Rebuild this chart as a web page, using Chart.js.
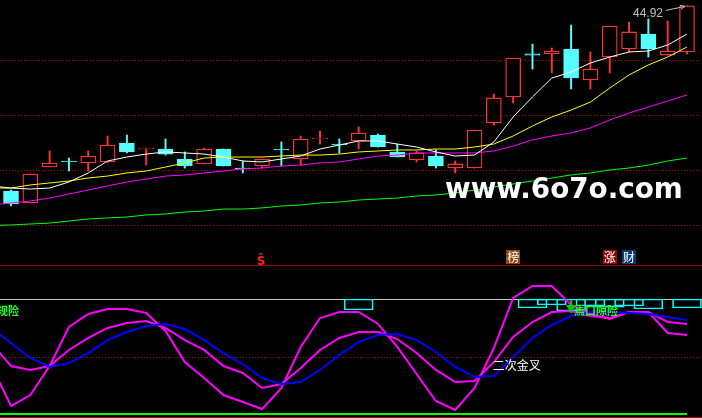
<!DOCTYPE html>
<html><head><meta charset="utf-8">
<script src="https://cdn.jsdelivr.net/npm/chart.js@4"></script>
<style>html,body{margin:0;padding:0;background:#000;overflow:hidden}canvas{display:block}</style>
</head><body>
<canvas id="c" width="702" height="418"></canvas>
<script>
// ---- candles (36 sessions) ----
const open  = [28.09,27.00,30.27,30.82,30.64,30.73,32.45,31.91,31.91,31.00,30.55,31.91,30.18,30.36,31.91,31.00,32.82,32.36,32.64,33.18,31.64,30.91,31.27,30.18,30.18,34.27,36.64,40.55,40.55,41.00,38.18,40.27,41.00,42.36,40.45,40.73];
const high  = [28.18,29.64,31.73,31.09,31.73,33.09,33.18,32.00,32.82,31.64,32.00,31.91,30.82,31.00,32.55,33.09,33.55,32.82,33.91,33.27,32.36,31.73,31.82,30.82,33.64,36.91,40.18,41.45,41.09,43.18,40.73,43.09,43.45,43.73,43.55,44.92];
const low   = [26.73,27.00,30.27,29.91,29.91,30.64,31.55,30.45,31.36,30.18,30.55,30.36,29.73,30.18,30.36,30.45,32.36,31.55,31.91,32.09,31.18,30.73,30.18,29.73,30.18,34.09,36.09,39.18,38.82,37.36,37.36,38.82,40.73,40.27,40.45,40.55];
const close = [26.91,29.64,30.64,30.73,31.27,32.27,31.64,32.00,31.45,30.36,31.91,30.36,30.09,31.00,31.82,32.82,32.91,32.27,33.36,32.09,31.18,31.55,30.36,30.55,33.64,36.55,40.18,40.45,40.82,38.36,39.18,43.09,42.55,41.00,40.82,44.92];
// ---- moving averages (first value = session before the first visible candle) ----
const ma5  = [28.55,28.36,28.27,28.36,28.91,29.73,30.82,31.18,31.45,31.64,31.55,31.45,31.18,30.82,30.73,31.00,31.27,31.91,32.27,32.64,32.64,32.36,32.09,31.64,31.27,31.36,32.55,34.82,36.64,38.36,38.91,39.73,40.27,40.73,40.82,41.36,42.36];
const ma10 = [28.36,28.36,28.64,28.82,29.00,29.27,29.45,29.73,29.91,30.27,30.64,31.09,31.18,31.18,31.18,31.27,31.36,31.36,31.45,31.64,31.73,31.82,31.82,31.91,31.91,32.09,32.36,33.09,34.00,34.82,35.45,36.18,37.45,38.64,39.55,40.27,41.18];
const ma20 = [26.82,27.00,27.18,27.45,27.82,28.18,28.55,28.91,29.18,29.45,29.55,29.73,29.91,30.09,30.18,30.36,30.45,30.64,30.73,31.00,31.27,31.36,31.55,31.55,31.55,31.55,31.73,32.18,32.73,33.09,33.36,33.82,34.55,35.18,35.73,36.27,36.82];
const ma60 = [24.95,25.00,25.09,25.18,25.36,25.55,25.64,25.73,25.91,26.00,26.18,26.27,26.45,26.45,26.55,26.73,26.82,27.00,27.09,27.27,27.36,27.45,27.64,27.73,27.91,28.18,28.45,28.73,29.00,29.27,29.55,29.73,30.00,30.18,30.45,30.82,31.09];
// ---- lower indicator (first value = session before the first visible candle) ----
const fastLine = [41.7,7.0,16.5,41.7,75.7,87.0,91.3,91.3,87.8,72.2,45.2,31.3,16.5,10.4,4.3,22.6,58.3,83.5,88.7,88.7,78.3,58.3,34.8,11.3,3.5,22.6,57.4,100.9,111.3,111.3,94.8,87.0,82.6,88.7,88.7,70.4,68.7];
const midLine  = [61.7,41.7,38.3,41.7,55.7,66.1,74.8,79.1,80.9,74.8,64.3,55.7,41.7,35.7,22.6,26.1,40.0,55.7,66.1,71.3,71.3,65.2,53.0,38.3,27.8,28.7,45.2,67.0,80.0,88.7,89.6,85.2,83.5,88.7,88.7,80.0,78.3];
const slowLine = [74.8,61.7,48.7,40.9,44.3,53.0,64.3,71.3,76.5,78.3,73.9,64.3,53.0,43.5,31.3,26.1,27.8,38.3,51.3,62.6,68.7,69.6,64.3,53.9,40.9,32.2,33.0,49.6,66.1,77.4,85.2,88.7,88.7,87.8,87.0,84.3,81.7];
const baseValue = 0;
const boxIdx = [18,27,28,29,30,31,32,33,35];
const boxLow = [90.4,92.2,94.8,89.6,93.9,93.0,93.9,91.3,92.2];
const indTop = 100, indMid = 50;
const priceTicks = [25,30,35,40];
// ---- signal labels ----
const sigIdx  = [26,31,32];
const sigText = ['榜','涨','财'];
const dollarIdx = 13;
const crossIdx = 25, crossText = '二次金叉';
const warnIdx = 29, warnText = '焉口隙险';
const leftText = '规险';

// ---- styles ----
const RED = '#ff3232', CYAN = '#55ffff';
const sigBg = ['#8a4a12','#8a0a0a','#0e3a72'];

const up = open.map((o,i)=>close[i] >= o);
const cColor = up.map(u=>u?RED:CYAN);
const lineData = arr => arr.map((v,i)=>({x:i-1,y:v}));

const deco = {
  id:'deco',
  beforeDatasetsDraw(ch){
    const {ctx, scales:{x,y,y2}, chartArea:a} = ch;
    ctx.save();
    ctx.lineWidth = 1;
    ctx.strokeStyle = '#b00000';
    ctx.setLineDash([1,2]);
    const hl = (py)=>{ctx.beginPath();ctx.moveTo(a.left,py);ctx.lineTo(a.right,py);ctx.stroke();};
    priceTicks.forEach(p=>hl(Math.round(y.getPixelForValue(p))+0.5));
    hl(Math.round(y2.getPixelForValue(indMid))+0.5);
    ctx.setLineDash([]);
    ctx.strokeStyle = '#a00000';
    hl(265.5); hl(417.5);
    ctx.strokeStyle = '#c8c8c8';
    hl(Math.round(y2.getPixelForValue(indTop))+0.5);
    ctx.restore();
  },
  afterDatasetsDraw(ch){
    const {ctx, scales:{x,y,y2}} = ch;
    ctx.save();
    // watermark
    const wm = 'www.6o7o.com';
    ctx.font = 'bold 32px "DejaVu Sans"';
    const w = ctx.measureText(wm).width;
    const fs = 32*238/w;
    ctx.font = 'bold '+fs.toFixed(1)+'px "DejaVu Sans"';
    ctx.fillStyle = '#ffffff';
    ctx.textBaseline = 'alphabetic';
    ctx.fillText(wm, 445, 198);
    // max label
    let mi = 0; high.forEach((h,i)=>{ if(h>high[mi]) mi=i; });
    const hx = x.getPixelForValue(mi), hy = y.getPixelForValue(high[mi]);
    ctx.font = '12px "Liberation Sans"';
    ctx.fillStyle = '#c0c0c0';
    ctx.textAlign = 'right';
    ctx.fillText(high[mi].toFixed(2), hx-24, hy+11);
    ctx.strokeStyle = '#c0c0c0'; ctx.lineWidth = 1;
    ctx.beginPath(); ctx.moveTo(hx-21, hy+4.5); ctx.lineTo(hx-2, hy+0.5);
    ctx.moveTo(hx-2, hy+0.5); ctx.lineTo(hx-7, hy-0.5);
    ctx.moveTo(hx-2, hy+0.5); ctx.lineTo(hx-6, hy+3.5); ctx.stroke();
    // signal boxes
    ctx.textAlign = 'center'; ctx.textBaseline = 'middle';
    ctx.font = '12px "Noto Sans CJK SC"';
    sigIdx.forEach((ix,k)=>{
      const cx = x.getPixelForValue(ix);
      ctx.fillStyle = sigBg[k];
      ctx.fillRect(Math.round(cx-7), 250, 14, 14);
      ctx.fillStyle = '#ffffff';
      ctx.fillText(sigText[k], cx, 257);
    });
    // dollar sign
    ctx.fillStyle = '#ff2020';
    ctx.font = 'bold 12px "DejaVu Sans"';
    ctx.textBaseline = 'alphabetic';
    ctx.fillText('Ŝ', x.getPixelForValue(dollarIdx)-1, 265);
    // indicator texts
    ctx.textBaseline = 'middle'; ctx.textAlign = 'left';
    ctx.font = 'bold 11px "Noto Sans CJK SC"';
    ctx.fillStyle = '#22ff22';
    ctx.fillText(leftText, -3, 311);
    const wx = x.getPixelForValue(warnIdx);
    ctx.fillText(warnText, wx+3, 311);
    ctx.strokeStyle = '#00cc00'; ctx.lineWidth = 2;
    ctx.beginPath(); ctx.moveTo(wx, 300); ctx.lineTo(wx, 309); ctx.stroke();
    ctx.beginPath(); ctx.moveTo(wx-5, 305); ctx.lineTo(wx+5, 305); ctx.lineTo(wx, 314); ctx.closePath();
    ctx.fillStyle = '#00cc00'; ctx.fill();
    ctx.fillStyle = '#ffffff';
    ctx.font = '12px "Noto Sans CJK SC"';
    ctx.fillText(crossText, x.getPixelForValue(crossIdx)-1, 365);
    ctx.restore();
  }
};

const bodyBar = open.map((o,i)=>({x:i, y:[o, close[i]]}));
const upWick = open.map((o,i)=>({x:i, y:[Math.max(o,close[i]), high[i]]}));
const dnWick = open.map((o,i)=>({x:i, y:[low[i], Math.min(o,close[i])]}));

new Chart(document.getElementById('c'), {
  type:'bar',
  data:{datasets:[
    {type:'line', data:lineData(ma5), yAxisID:'y', borderColor:'#ffffff', borderWidth:1, pointRadius:0, order:1},
    {type:'line', data:lineData(ma10), yAxisID:'y', borderColor:'#ffff00', borderWidth:1, pointRadius:0, order:2},
    {type:'line', data:lineData(ma20), yAxisID:'y', borderColor:'#ff00ff', borderWidth:1, pointRadius:0, order:3},
    {type:'line', data:lineData(ma60), yAxisID:'y', borderColor:'#00ff00', borderWidth:1, pointRadius:0, order:4},
    {type:'line', data:lineData(slowLine), yAxisID:'y2', borderColor:'#0000ff', borderWidth:2, pointRadius:0, order:1},
    {type:'line', data:lineData(midLine), yAxisID:'y2', borderColor:'#ff00ff', borderWidth:2, pointRadius:0, order:2},
    {type:'line', data:lineData(fastLine), yAxisID:'y2', borderColor:'#ff00ff', borderWidth:2, pointRadius:0, order:2},
    {type:'line', data:lineData(fastLine.map(()=>baseValue)), yAxisID:'y2', borderColor:'#00ff00', borderWidth:2, pointRadius:0, order:5},
    {data:boxIdx.map((ix,k)=>({x:ix, y:[indTop, boxLow[k]]})), yAxisID:'y2', backgroundColor:'rgba(0,0,0,0)', borderColor:'#00ffff', borderWidth:1, borderSkipped:false, barThickness:29, grouped:false, order:6},
    {data:bodyBar, yAxisID:'y', backgroundColor:up.map(u=>u?'#000000':CYAN), borderColor:cColor, borderWidth:1.3, borderSkipped:false, barThickness:15, grouped:false, order:10},
    {data:upWick, yAxisID:'y', backgroundColor:cColor, borderWidth:0, barThickness:1.3, grouped:false, order:11},
    {data:dnWick, yAxisID:'y', backgroundColor:cColor, borderWidth:0, barThickness:1.3, grouped:false, order:11}
  ]},
  options:{
    responsive:false, animation:false, devicePixelRatio:1,
    layout:{padding:0, autoPadding:false},
    plugins:{legend:{display:false}, tooltip:{enabled:false}},
    scales:{
      x:{type:'linear', min:-0.5695, max:35.777, display:false, offset:false},
      y:{type:'linear', min:7.4545, max:45.4545, display:false},
      y2:{type:'linear', min:-3.478, max:360, display:false}
    }
  },
  plugins:[deco]
});
</script>
</body></html>
